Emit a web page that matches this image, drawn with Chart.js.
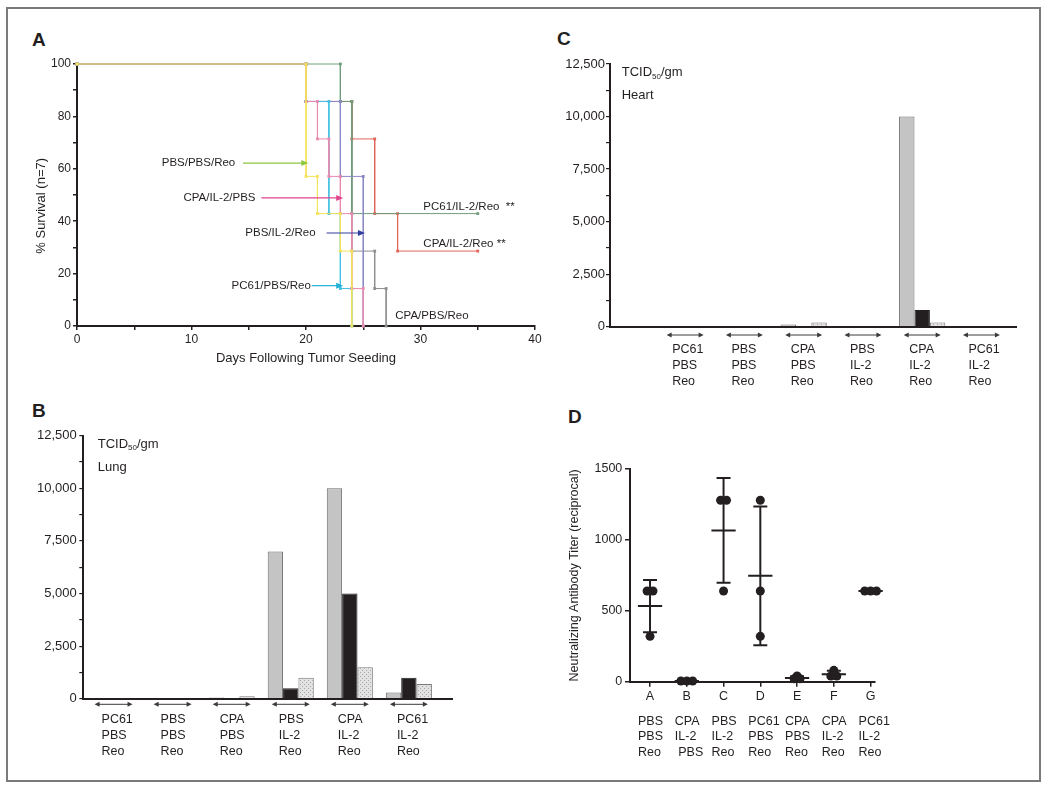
<!DOCTYPE html>
<html>
<head>
<meta charset="utf-8">
<title>Reovirus figure</title>
<script src="https://cdn.jsdelivr.net/npm/chart.js@4.4.1/dist/chart.umd.min.js"></script>
<style>
  html, body { margin: 0; padding: 0; background: #fff; }
  #page { position: relative; width: 1050px; height: 792px; overflow: hidden; background: #fff;
          font-family: "Liberation Sans", Arial, sans-serif; color: #231f20; }
  #frame { position: absolute; left: 6px; top: 7px; width: 1035px; height: 775px;
           border: 2px solid #7a7a7a; box-sizing: border-box; }
  .tag { position: absolute; font-size: 19px; font-weight: bold; line-height: 19px; }
  canvas { position: absolute; }
</style>
</head>
<body>
<div id="page">
  <div id="frame"></div>
  <div class="tag" style="left:32px; top:30px">A</div>
  <div class="tag" style="left:32px; top:401px">B</div>
  <div class="tag" style="left:557px; top:29px">C</div>
  <div class="tag" style="left:568px; top:407px">D</div>
  <canvas id="survival" width="530" height="340" style="left:20px; top:40px"></canvas>
  <canvas id="lung" width="450" height="350" style="left:20px; top:420px"></canvas>
  <canvas id="heart" width="490" height="360" style="left:545px; top:40px"></canvas>
  <canvas id="titer" width="460" height="340" style="left:550px; top:430px"></canvas>
</div>
<script>
// ---- A: survival (n=7 per group), step levels at each event day
const survGroups = ['PBS/PBS/Reo', 'CPA/IL-2/PBS', 'PC61/PBS/Reo', 'PBS/IL-2/Reo', 'PC61/IL-2/Reo', 'CPA/IL-2/Reo', 'CPA/PBS/Reo'];
const survColors = ['#f4e25c', '#e98aae', '#45bfe4', '#8a88c4', '#6e9e7b', '#e0655a', '#8e8e8e'];
const eventDays = [
  [0, 20, 21, 23, 24],
  [0, 20, 21, 22, 23, 24, 25],
  [0, 20, 22, 23, 24],
  [0, 20, 23, 25],
  [0, 23, 24, 35],
  [0, 20, 24, 26, 28, 35],
  [0, 20, 24, 26, 27]
];
const survPct = [
  [100, 57.1, 42.9, 28.6, 0],
  [100, 85.7, 71.4, 57.1, 42.9, 14.3, 0],
  [100, 85.7, 42.9, 14.3, 0],
  [100, 85.7, 57.1, 0],
  [100, 85.7, 42.9, 42.9],
  [100, 85.7, 71.4, 42.9, 28.6, 28.6],
  [100, 85.7, 28.6, 14.3, 0]
];
// labels inside panel A (day, % position); arrows run from arrowFrom to arrowTo
const survNotes = [
  { text: 'PBS/PBS/Reo', x: 7.4, y: 62.2, arrowFrom: 14.5, arrowTo: 20.2, color: '#8dc641' },
  { text: 'CPA/IL-2/PBS', x: 9.3, y: 48.9, arrowFrom: 16.1, arrowTo: 23.25, color: '#e2458f' },
  { text: 'PBS/IL-2/Reo', x: 14.7, y: 35.5, arrowFrom: 21.8, arrowTo: 25.15, color: '#303f9f' },
  { text: 'PC61/PBS/Reo', x: 13.5, y: 15.4, arrowFrom: 20.5, arrowTo: 23.25, color: '#1fb2d6' },
  { text: 'PC61/IL-2/Reo  **', x: 30.25, y: 45.4 },
  { text: 'CPA/IL-2/Reo **', x: 30.25, y: 31.3 },
  { text: 'CPA/PBS/Reo', x: 27.8, y: 3.9 }
];

// ---- B / C: TCID50 per gm, three mice per group
const tissueGroups = [['PC61', 'PBS', 'Reo'], ['PBS', 'PBS', 'Reo'], ['CPA', 'PBS', 'Reo'],
                      ['PBS', 'IL-2', 'Reo'], ['CPA', 'IL-2', 'Reo'], ['PC61', 'IL-2', 'Reo']];
const lungMouse1 = [0, 0, 60, 7000, 10000, 300];
const lungMouse2 = [0, 0, 10, 500, 5000, 1000];
const lungMouse3 = [0, 0, 120, 1000, 1500, 700];
const heartMouse1 = [0, 0, 100, 0, 10000, 0];
const heartMouse2 = [0, 0, 30, 0, 800, 0];
const heartMouse3 = [0, 0, 200, 0, 200, 0];

// ---- D: neutralizing antibody titers
const titerGroups = ['A', 'B', 'C', 'D', 'E', 'F', 'G'];
const titerTreatments = [['PBS', 'PBS', 'Reo'], ['CPA', 'IL-2', ' PBS'], ['PBS', 'IL-2', 'Reo'], ['PC61', 'PBS', 'Reo'],
                         ['CPA', 'PBS', 'Reo'], ['CPA', 'IL-2', 'Reo'], ['PC61', 'IL-2', 'Reo']];
const titerMouse1 = [640, 5, 1280, 1280, 40, 80, 640];
const titerMouse2 = [640, 5, 1280, 640, 20, 40, 640];
const titerMouse3 = [320, 5, 640, 320, 20, 40, 640];

const FAMILY = '"Liberation Sans", Arial, sans-serif';
const ink = '#231f20';
Chart.defaults.font.family = FAMILY;
Chart.defaults.color = ink;
Chart.defaults.animation = false;
Chart.defaults.plugins.legend.display = false;
Chart.defaults.plugins.tooltip.enabled = false;

const fixWidth = w => s => { s.width = w; };
const fixHeight = h => s => { s.height = h; };

function arrowHead(ctx, tipX, y, dir, len, half) {
  ctx.beginPath();
  ctx.moveTo(tipX, y);
  ctx.lineTo(tipX - dir * len, y - half);
  ctx.lineTo(tipX - dir * len, y + half);
  ctx.closePath();
  ctx.fill();
}

// ---------- A
function stepPoints(days, pct) {
  const pts = [{ x: days[0], y: pct[0] }];
  for (let i = 1; i < days.length; i++) {
    pts.push({ x: days[i], y: pct[i - 1] });
    if (pct[i] !== pct[i - 1]) pts.push({ x: days[i], y: pct[i] });
  }
  return pts;
}

const survNotesPlugin = {
  id: 'survNotes',
  afterDatasetsDraw(chart) {
    const { ctx, scales: { x, y } } = chart;
    ctx.save();
    ctx.font = '11.5px ' + FAMILY;
    ctx.textBaseline = 'middle';
    ctx.textAlign = 'left';
    survNotes.forEach(n => {
      const ty = y.getPixelForValue(n.y);
      ctx.fillStyle = ink;
      ctx.fillText(n.text, x.getPixelForValue(n.x), ty);
      if (n.color) {
        const x0 = x.getPixelForValue(n.arrowFrom);
        const x1 = x.getPixelForValue(n.arrowTo);
        ctx.strokeStyle = ctx.fillStyle = n.color;
        ctx.lineWidth = 1.2;
        ctx.beginPath();
        ctx.moveTo(x0, ty);
        ctx.lineTo(x1 - 6, ty);
        ctx.stroke();
        arrowHead(ctx, x1, ty, 1, 7, 3);
      }
    });
    ctx.restore();
  }
};

new Chart(document.getElementById('survival'), {
  type: 'scatter',
  data: {
    datasets: survGroups.map((g, i) => ({
      label: g,
      data: stepPoints(eventDays[i], survPct[i]),
      showLine: true,
      borderColor: survColors[i],
      backgroundColor: survColors[i],
      borderWidth: 1,
      pointStyle: 'rect',
      pointRadius: 2,
      pointBorderWidth: 0,
      clip: 6
    }))
  },
  options: {
    responsive: false,
    layout: { padding: { left: 0, right: 15, top: 24, bottom: 0 } },
    scales: {
      x: {
        type: 'linear', min: 0, max: 40,
        afterFit: fixHeight(54),
        border: { color: ink, width: 2 },
        grid: { drawOnChartArea: false, color: ink, tickLength: 4, lineWidth: 1.5 },
        ticks: { stepSize: 5, autoSkip: false, maxRotation: 0, padding: 2.8, font: { size: 12 },
                 callback: v => (v % 10 === 0 ? v : '') },
        title: { display: true, text: 'Days Following Tumor Seeding', font: { size: 13 }, padding: { top: 0, bottom: 14 } }
      },
      y: {
        type: 'linear', min: 0, max: 100,
        afterFit: fixWidth(57),
        border: { color: ink, width: 2 },
        grid: { drawOnChartArea: false, color: ink, tickLength: 4, lineWidth: 1.5 },
        ticks: { stepSize: 10, autoSkip: false, padding: 2, font: { size: 12 },
                 callback: v => (v % 20 === 0 ? v : '') },
        title: { display: true, text: '% Survival (n=7)      ', font: { size: 13 }, padding: { top: 14, bottom: 0 } }
      }
    }
  },
  plugins: [survNotesPlugin]
});

// ---------- B and C
function hatchFor(ctx) {
  const c = document.createElement('canvas');
  c.width = 4; c.height = 4;
  const g = c.getContext('2d');
  g.fillStyle = '#e2e2e2';
  g.fillRect(0, 0, 4, 4);
  g.fillStyle = '#a8a8a8';
  g.fillRect(0, 0, 1, 1);
  g.fillRect(2, 2, 1, 1);
  return ctx.createPattern(c, 'repeat');
}

const groupArrows = {
  id: 'groupArrows',
  afterDraw(chart, args, opts) {
    const { ctx, chartArea, scales: { x } } = chart;
    ctx.save();
    ctx.strokeStyle = ctx.fillStyle = '#3a3a3a';
    ctx.lineWidth = 1;
    const y = x.top + opts.gap;
    x.ticks.forEach(t => {
      const c = x.getPixelForValue(t.value);
      ctx.beginPath();
      ctx.moveTo(c - opts.half + 4, y);
      ctx.lineTo(c + opts.half - 4, y);
      ctx.stroke();
      arrowHead(ctx, c - opts.half, y, -1, 5, 2.5);
      arrowHead(ctx, c + opts.half, y, 1, 5, 2.5);
    });
    // TCID50/gm + organ name
    const tx = chartArea.left + opts.textDx;
    const ty = chartArea.top + 8.3;
    ctx.fillStyle = ink;
    ctx.textBaseline = 'middle';
    ctx.textAlign = 'left';
    ctx.font = '13px ' + FAMILY;
    ctx.fillText('TCID', tx, ty);
    let w = ctx.measureText('TCID').width;
    ctx.font = '8px ' + FAMILY;
    ctx.fillText('50', tx + w, ty + 4);
    w += ctx.measureText('50').width;
    ctx.font = '13px ' + FAMILY;
    ctx.fillText('/gm', tx + w, ty);
    ctx.fillText(opts.organ, tx, ty + 23.5);
    ctx.restore();
  }
};

function tissueChart(id, m1, m2, m3, cfg) {
  const el = document.getElementById(id);
  const ctx = el.getContext('2d');
  const pts = arr => arr.map((v, i) => ({ x: i + 1, y: v }));
  return new Chart(el, {
    type: 'bar',
    data: {
      datasets: [
        { data: pts(m1), backgroundColor: '#c4c4c4', borderColor: '#6b6b6b', borderWidth: 1 },
        { data: pts(m2), backgroundColor: ink, borderColor: ink, borderWidth: 1 },
        { data: pts(m3), backgroundColor: hatchFor(ctx), borderColor: '#7a7a7a', borderWidth: 1 }
      ]
    },
    options: {
      responsive: false,
      datasets: { bar: { categoryPercentage: 0.78, barPercentage: 1 } },
      layout: { padding: cfg.padding },
      scales: {
        x: {
          type: 'linear', min: cfg.xMin, max: cfg.xMax, offset: false,
          afterBuildTicks: s => { s.ticks = tissueGroups.map((_, i) => ({ value: i + 1 })); },
          afterFit: fixHeight(cfg.xHeight),
          border: { color: ink, width: 2 },
          grid: { display: false, drawTicks: false, offset: false },
          ticks: { autoSkip: false, maxRotation: 0, minRotation: 0, align: 'start', labelOffset: cfg.labelOffset,
                   padding: cfg.labelPad, font: { size: 12.5, lineHeight: '15.6px' },
                   callback: (v, i) => tissueGroups[i] }
        },
        y: {
          min: 0, max: 12500,
          afterFit: fixWidth(cfg.yWidth),
          border: { color: ink, width: 2 },
          grid: { drawOnChartArea: false, color: ink, tickLength: 4, lineWidth: 1.2 },
          ticks: { stepSize: 1250, autoSkip: false, padding: cfg.yPad, font: { size: 13 },
                   callback: v => (v % 2500 === 0 ? v.toLocaleString('en-US') : '') }
        }
      },
      plugins: { groupArrows: cfg.arrows }
    },
    plugins: [groupArrows]
  });
}

tissueChart('lung', lungMouse1, lungMouse2, lungMouse3, {
  xMin: 0.488, xMax: 6.73,
  padding: { left: 0, right: 18, top: 15.7, bottom: 0 },
  yWidth: 63.3, xHeight: 71.3, yPad: 2.6,
  labelOffset: -12, labelPad: 13.5,
  arrows: { gap: 5.6, half: 19, textDx: 14.4, organ: 'Lung' }
});

tissueChart('heart', heartMouse1, heartMouse2, heartMouse3, {
  xMin: -0.268, xMax: 6.583,
  padding: { left: 0, right: 19, top: 24, bottom: 0 },
  yWidth: 65, xHeight: 73.3, yPad: 1,
  labelOffset: -13, labelPad: 15.5,
  arrows: { gap: 8.3, half: 18.5, textDx: 11.7, organ: 'Heart' }
});

// ---------- D
const titerPoints = [];
const errorLines = [];
titerGroups.forEach((_, i) => {
  const vals = [titerMouse1[i], titerMouse2[i], titerMouse3[i]];
  const c = i + 1;
  vals.forEach((v, k) => {
    const same = vals.filter(w => w === v).length;
    const rank = vals.slice(0, k).filter(w => w === v).length;
    titerPoints.push({ x: c + (rank - (same - 1) / 2) * 0.16, y: v });
  });
  const mean = vals.reduce((a, b) => a + b, 0) / vals.length;
  const sd = Math.sqrt(vals.reduce((a, b) => a + (b - mean) ** 2, 0) / (vals.length - 1));
  const seg = (x0, y0, x1, y1) => errorLines.push({ x: x0, y: y0 }, { x: x1, y: y1 }, { x: x1, y: null });
  seg(c - 0.33, mean, c + 0.33, mean);
  if (sd > 0) {
    seg(c, mean - sd, c, mean + sd);
    seg(c - 0.19, mean + sd, c + 0.19, mean + sd);
    seg(c - 0.19, mean - sd, c + 0.19, mean - sd);
  }
});

const titerTicks = s => { s.ticks = titerGroups.map((_, i) => ({ value: i + 1 })); };

new Chart(document.getElementById('titer'), {
  type: 'scatter',
  data: {
    datasets: [
      { data: errorLines, showLine: true, spanGaps: false, borderColor: ink, borderWidth: 2,
        pointRadius: 0, xAxisID: 'x', clip: 10 },
      { data: titerPoints, backgroundColor: ink, borderWidth: 0, pointRadius: 4.5, xAxisID: 'x', clip: 10 }
    ]
  },
  options: {
    responsive: false,
    layout: { padding: { left: 0, right: 135, top: 39, bottom: 0 } },
    scales: {
      x: {
        type: 'linear', axis: 'x', position: 'bottom', weight: 0,
        min: 0.455, max: 7.12,
        afterBuildTicks: titerTicks,
        afterFit: fixHeight(28),
        border: { color: ink, width: 2 },
        grid: { drawOnChartArea: false, color: ink, tickLength: 5, lineWidth: 1.5 },
        ticks: { autoSkip: false, maxRotation: 0, padding: 2.8, font: { size: 12.5 },
                 callback: (v, i) => titerGroups[i] }
      },
      x2: {
        type: 'linear', axis: 'x', position: 'bottom', weight: 1,
        min: 0.455, max: 7.12,
        afterBuildTicks: titerTicks,
        afterFit: fixHeight(60.3),
        border: { display: false },
        grid: { display: false, drawTicks: false },
        ticks: { autoSkip: false, maxRotation: 0, minRotation: 0, align: 'start', labelOffset: -12,
                 padding: 3.5, font: { size: 12.5, lineHeight: '15.8px' },
                 callback: (v, i) => titerTreatments[i] }
      },
      y: {
        min: 0, max: 1500,
        afterFit: fixWidth(80),
        border: { color: ink, width: 2 },
        grid: { drawOnChartArea: false, color: ink, tickLength: 5, lineWidth: 1.5 },
        ticks: { stepSize: 500, padding: 2.7, font: { size: 12.5 }, callback: v => String(v) },
        title: { display: true, text: 'Neutralizing Antibody Titer (reciprocal)', font: { size: 12.5 },
                 padding: { top: 17, bottom: 0 } }
      }
    }
  }
});
</script>
</body>
</html>
